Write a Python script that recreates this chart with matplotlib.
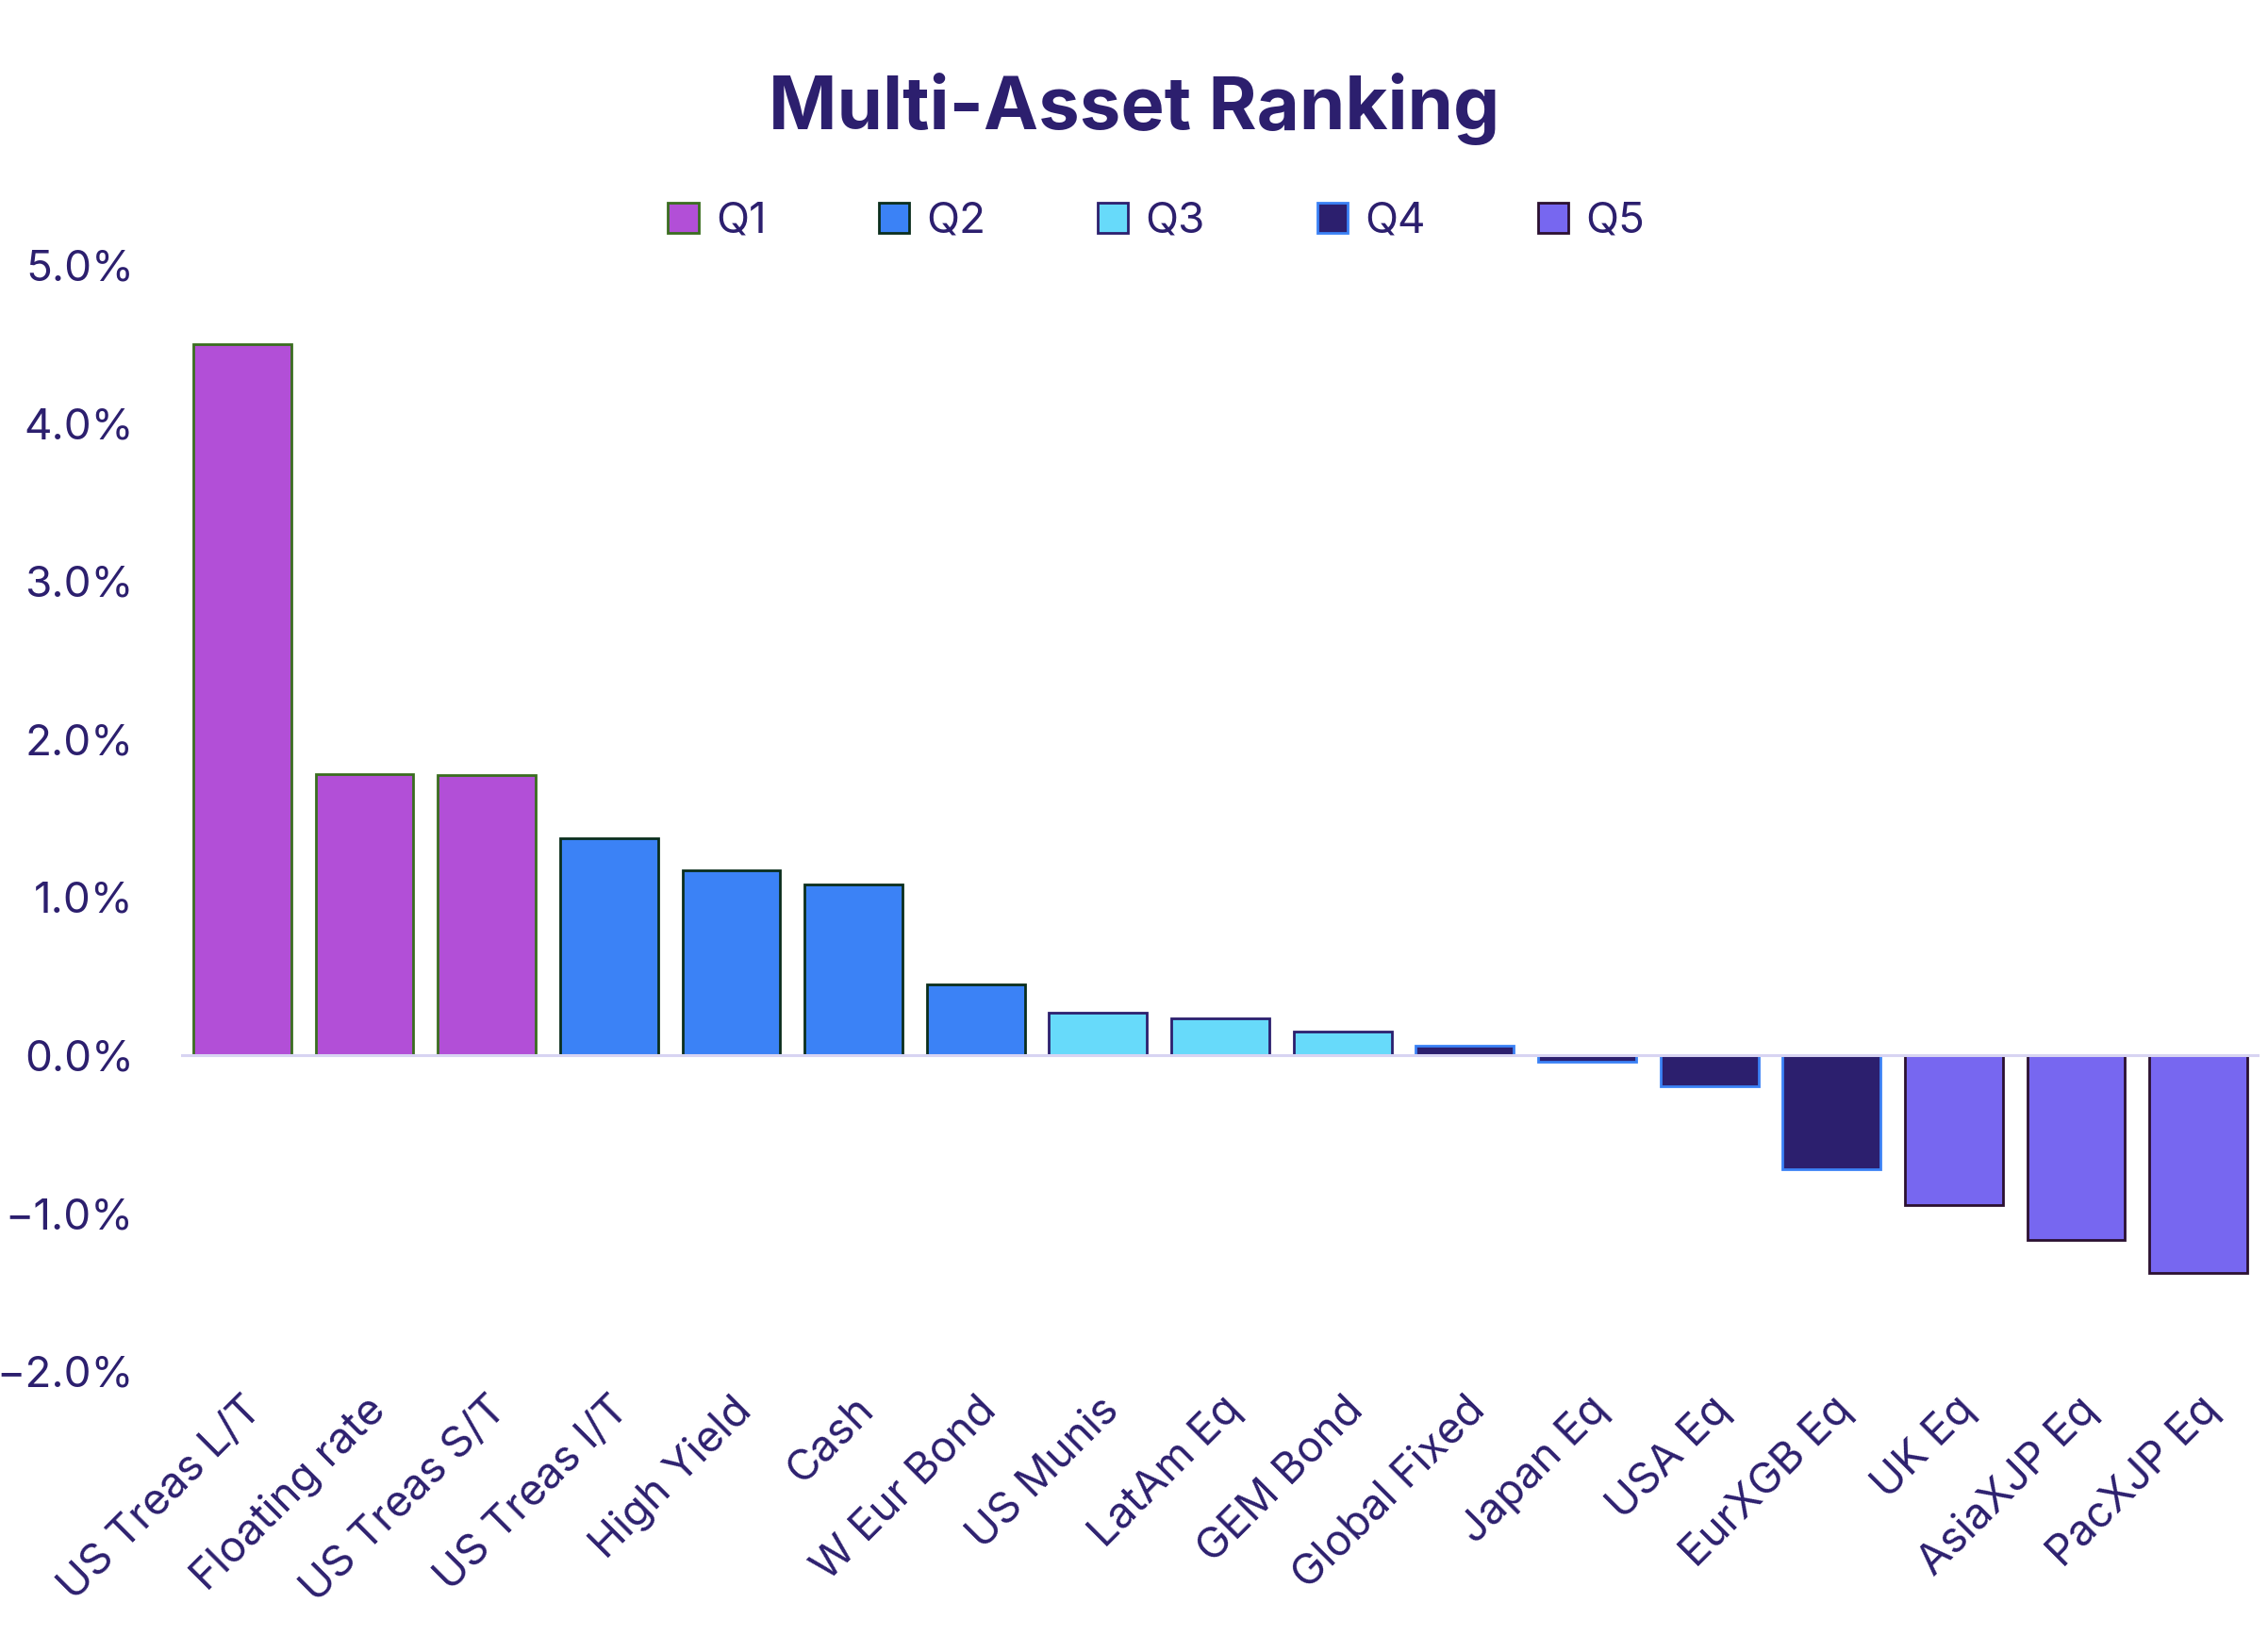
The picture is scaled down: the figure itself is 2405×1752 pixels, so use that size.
import matplotlib
matplotlib.use("Agg")
import matplotlib.pyplot as plt
from matplotlib.patches import Patch
from matplotlib.ticker import FuncFormatter

categories = ["US Treas L/T", "Floating rate", "US Treas S/T", "US Treas I/T", "High Yield",
              "Cash", "W Eur Bond", "US Munis", "LatAm Eq", "GEM Bond", "Global Fixed",
              "Japan Eq", "USA Eq", "EurXGB Eq", "UK Eq", "AsiaXJP Eq", "PacXJP Eq"]
values = [4.50, 1.78, 1.77, 1.37, 1.17, 1.08, 0.45, 0.27, 0.23, 0.15, 0.06,
          -0.04, -0.20, -0.72, -0.95, -1.17, -1.38]
quintile = ["Q1", "Q1", "Q1", "Q2", "Q2", "Q2", "Q2", "Q3", "Q3", "Q3", "Q4",
            "Q4", "Q4", "Q4", "Q5", "Q5", "Q5"]
quintile_names = ["Q1", "Q2", "Q3", "Q4", "Q5"]
fill_colors = {"Q1": "#B24FD7", "Q2": "#3B82F6", "Q3": "#67DAFA", "Q4": "#2C1F6E", "Q5": "#7767F0"}
edge_colors = {"Q1": "#3A6E1F", "Q2": "#0B2E1C", "Q3": "#2C1F6E", "Q4": "#3B82F6", "Q5": "#2B1030"}
yticks = [-2, -1, 0, 1, 2, 3, 4, 5]

navy = "#2C1F6E"
plt.rcParams['font.family'] = ['Inter', 'DejaVu Sans']

fig = plt.figure(figsize=(24.05, 17.52), dpi=100)
ax = fig.add_axes([0.0798, 0.170, 0.9165, 0.6696])

x = range(len(categories))
ax.bar(x, values, width=0.8,
       color=[fill_colors[q] for q in quintile],
       edgecolor=[edge_colors[q] for q in quintile], linewidth=2.0, zorder=2)
ax.axhline(0, color="#D8D4F2", lw=2.2, zorder=3)

ax.set_xlim(-0.5, len(categories) - 0.5)
ax.set_ylim(-2, 5)
ax.set_yticks(yticks)
ax.yaxis.set_major_formatter(FuncFormatter(lambda v, p: f"{v:.1f}%".replace("-", "\u2212")))
ax.tick_params(axis='y', length=0, labelsize=33, labelcolor=navy, pad=36)
ax.tick_params(axis='x', length=0, labelsize=33, labelcolor=navy, pad=14)
ax.set_xticks(list(x))
ax.set_xticklabels(categories, rotation=45, ha='right', rotation_mode='anchor')
for s in ax.spines.values():
    s.set_visible(False)

fig.text(0.5, 0.934, "Multi-Asset Ranking", ha='center', va='center',
         fontsize=56, fontweight='bold', color=navy)

handles = [Patch(facecolor=fill_colors[q], edgecolor=edge_colors[q], linewidth=2.0, label=q)
           for q in quintile_names]
fig.legend(handles=handles, loc='center', bbox_to_anchor=(0.51, 0.866), ncol=5,
           frameon=False, fontsize=33, labelcolor=navy, handlelength=0.7, handleheight=0.7,
           handletextpad=0.4, columnspacing=2.6)

fig.savefig("out.png", dpi=100)
